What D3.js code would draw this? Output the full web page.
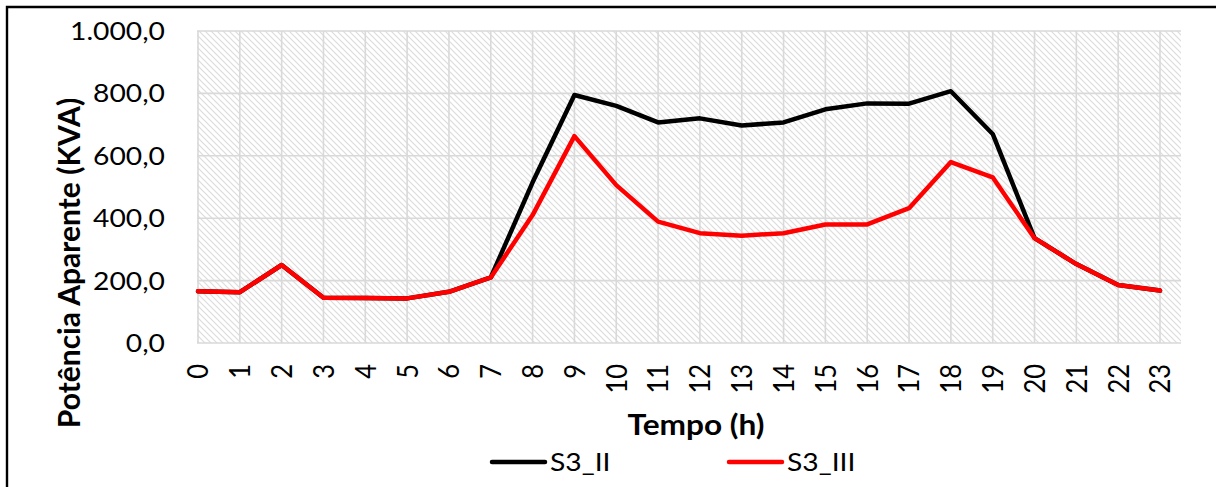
<!DOCTYPE html>
<html>
<head>
<meta charset="utf-8">
<script src="https://cdn.jsdelivr.net/npm/d3@7"></script>
<style>
  html, body { margin: 0; padding: 0; background: #ffffff; }
  svg { display: block; }
  text { font-family: Lato, "Open Sans", sans-serif; fill: #000000; }
</style>
</head>
<body>
<svg id="chart" width="1216" height="487"></svg>
<script>
// Hourly apparent power (kVA) for two feeder scenarios
const hours = [0, 1, 2, 3, 4, 5, 6, 7, 8, 9, 10, 11, 12, 13, 14, 15, 16, 17, 18, 19, 20, 21, 22, 23];
const s3II  = [166, 163, 250, 145, 144, 143, 164, 210, 515, 795, 760, 707, 720, 697, 707, 749, 768, 767, 807, 670, 336, 253, 186, 168];
const s3III = [166, 163, 250, 145, 144, 143, 164, 210, 410, 663, 506, 389, 352, 344, 352, 380, 380, 432, 580, 531, 336, 253, 186, 168];
const yTicks = [0, 200, 400, 600, 800, 1000];
const seriesNames = ["S3_II", "S3_III"];
const seriesColors = ["#000000", "#ff0000"];
const yTitle = "Potência Aparente (KVA)";
const xTitle = "Tempo (h)";

const svg = d3.select("#chart");
const SX = 1.13; // horizontal widening applied to the glyphs

const plot = { left: 197, right: 1181, top: 31, bottom: 343 };

const x = d3.scaleLinear().domain([0, 23]).range([198, 1160]);
const y = d3.scaleLinear().domain([0, 1000]).range([plot.bottom, plot.top]);

const ptBR = d3.formatLocale({ decimal: ",", thousands: ".", grouping: [3], currency: ["R$", ""] });
const fmt = ptBR.format(",.1f");

// hatched plot background
const defs = svg.append("defs");
const pat = defs.append("pattern")
  .attr("id", "hatch")
  .attr("patternUnits", "userSpaceOnUse")
  .attr("width", 6).attr("height", 6);
pat.append("rect").attr("width", 6).attr("height", 6).attr("fill", "#ffffff");
pat.append("path")
  .attr("d", "M-1,-1 L7,7 M-1,5 L1,7 M5,-1 L7,1")
  .attr("stroke", "#dcdcdc").attr("stroke-width", 1.2).attr("fill", "none");

svg.append("rect")
  .attr("x", plot.left).attr("y", plot.top)
  .attr("width", plot.right - plot.left).attr("height", plot.bottom - plot.top)
  .attr("fill", "url(#hatch)");

// gridlines
const grid = svg.append("g").attr("stroke", "#d9d9d9").attr("stroke-width", 1.6);
grid.selectAll("line.h").data(yTicks).join("line")
  .attr("x1", plot.left).attr("x2", plot.right)
  .attr("y1", d => y(d)).attr("y2", d => y(d));
grid.selectAll("line.v").data(hours).join("line")
  .attr("x1", d => x(d)).attr("x2", d => x(d))
  .attr("y1", plot.top).attr("y2", plot.bottom);

// y tick labels
svg.append("g").selectAll("text").data(yTicks).join("text")
  .attr("text-anchor", "end")
  .attr("font-size", 25)
  .attr("transform", d => `translate(165,${y(d)}) scale(${SX},1)`)
  .attr("dy", "0.36em")
  .text(d => fmt(d));

// x tick labels, rotated
svg.append("g").selectAll("text").data(hours).join("text")
  .attr("text-anchor", "end")
  .attr("font-size", 25.5)
  .attr("transform", d => `translate(${x(d)},364) scale(${SX},1) rotate(-90)`)
  .attr("dy", "0.36em")
  .text(d => String(d));

// axis titles
svg.append("text")
  .attr("text-anchor", "middle")
  .attr("font-weight", "bold")
  .attr("font-size", 30)
  .attr("transform", `translate(69,263) rotate(-90)`)
  .attr("dy", "0.36em")
  .text(yTitle);

svg.append("text")
  .attr("text-anchor", "middle")
  .attr("font-weight", "bold")
  .attr("font-size", 28)
  .attr("transform", `translate(696,425) scale(${SX},1)`)
  .attr("dy", "0.36em")
  .text(xTitle);

// series lines
const line = d3.line().x((d, i) => x(hours[i])).y(d => y(d));
[s3II, s3III].forEach((vals, k) => {
  svg.append("path")
    .datum(vals)
    .attr("d", line)
    .attr("fill", "none")
    .attr("stroke", seriesColors[k])
    .attr("stroke-width", 4.5)
    .attr("stroke-linejoin", "round")
    .attr("stroke-linecap", "round");
});

// legend
const legendX = [492, 729];
const leg = svg.append("g");
seriesNames.forEach((name, k) => {
  leg.append("line")
    .attr("x1", legendX[k]).attr("x2", legendX[k] + 53)
    .attr("y1", 462).attr("y2", 462)
    .attr("stroke", seriesColors[k]).attr("stroke-width", 4.5)
    .attr("stroke-linecap", "round");
  leg.append("text")
    .attr("font-size", 25)
    .attr("transform", `translate(${legendX[k] + 58},462) scale(${SX},1)`)
    .attr("dy", "0.36em")
    .text(name);
});

// frame around the figure
svg.append("path")
  .attr("d", "M7,487 L7,7 L1216,7")
  .attr("fill", "none")
  .attr("stroke", "#000000")
  .attr("stroke-width", 2.4);
</script>
</body>
</html>
